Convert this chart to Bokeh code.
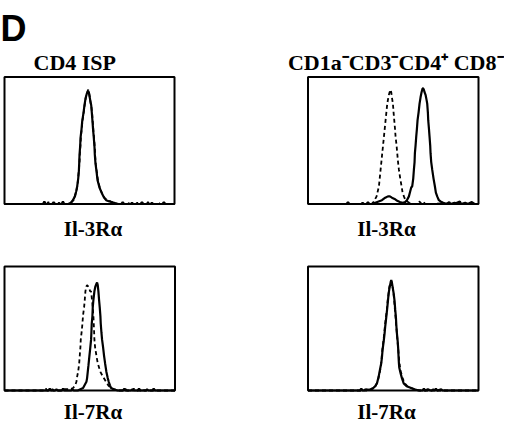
from bokeh.plotting import figure
from bokeh.models import Range1d
from bokeh.core.properties import value
from bokeh.embed import file_html
from bokeh.resources import INLINE

# ---------------- data (channel 0..256, relative count 0..100) ----------------
CHANNEL_MAX = 256
COUNT_MAX = 100

panel_letter = "D"
column_titles = ["CD4 ISP", "CD1a\u207bCD3\u207bCD4\u207a CD8\u207b"]
row_labels = ["Il-3R\u03b1", "Il-7R\u03b1"]

# CD4 ISP, Il-3Ra
isp_il3_solid = [(0, 0), (58, 0), (60, 2), (62, 0), (72, 0), (74, 1.5), (76, 0), (86, 0), (88, 2), (90, 0),
                 (96, 0), (100, 1), (103, 3), (106, 6), (108, 10), (109.5, 14), (111, 20), (112, 26), (112.5, 32),
                 (113, 39), (114, 46), (114.5, 52), (116, 59), (117, 65), (119, 72), (120.5, 78), (122, 83),
                 (124, 87), (126, 89), (127, 88), (128, 85), (129, 82), (130.5, 78), (131.5, 72), (132.5, 65),
                 (133.5, 58), (134.5, 52), (135.5, 45), (136, 39), (137, 32), (138.5, 26), (140, 19), (143, 13),
                 (147, 8), (150, 5), (153, 3), (158, 2), (165, 1), (170, 0), (176, 0), (178, 1.5), (180, 0),
                 (190, 0), (192, 1), (194, 0), (205, 0), (207, 1.5), (209, 0), (220, 0), (222, 1), (224, 0),
                 (238, 0), (240, 1.5), (242, 0), (256, 0)]
isp_il3_dash = [(0, 0), (64, 0), (66, 1.5), (68, 0), (80, 0), (82, 1), (84, 0), (98, 0), (101, 1.5), (104, 3),
                (106.5, 7), (108.5, 11), (110, 15), (111, 21), (112, 27), (113, 33), (113.5, 40), (114.5, 47),
                (115, 53), (116.5, 60), (117.5, 66), (119.5, 73), (121, 79), (122.5, 84), (124.5, 88), (126, 90),
                (127.5, 87), (128.5, 84), (129.5, 80), (131, 76), (132, 71), (133, 64), (134, 57), (135, 51),
                (136, 44), (136.5, 38), (137.5, 31), (139, 25), (141, 18), (144, 12), (148, 7), (151, 4.5),
                (155, 3), (160, 2), (167, 0.5), (172, 0), (184, 0), (186, 1.5), (188, 0), (198, 0), (200, 1),
                (202, 0), (214, 0), (216, 1.5), (218, 0), (230, 0), (232, 1), (234, 0), (256, 0)]

# CD1a-CD3-CD4+CD8-, Il-3Ra
dn_il3_solid = [(0, 0), (58, 0), (60, 1.5), (62, 0), (80, 0), (82, 1), (84, 0), (88, 0), (90, 1.5), (92, 0),
                (96, 0), (98, 1), (101, 1), (106, 2), (111, 3), (116, 5), (120, 6), (123, 6), (126, 5), (130, 4),
                (134, 2.5), (138, 1.5), (142, 1), (146, 1.5), (148.5, 3), (151.5, 6), (153.5, 10), (155, 13),
                (156.5, 14), (158, 20), (159, 27), (160, 33), (160.5, 40), (161.5, 46), (162.5, 53), (163.5, 59),
                (164.5, 66), (166, 72), (167.5, 79), (169, 84), (170.5, 88), (172, 91), (173, 91), (174, 90),
                (175, 88), (176.5, 86), (178, 82), (179, 79), (180, 72), (180.5, 66), (181.5, 60), (182.5, 53),
                (183.5, 46), (184, 40), (185, 33), (186.5, 27), (188.5, 20), (190.5, 14), (192, 9), (194, 6),
                (196.5, 3), (199, 2), (203, 1), (208, 0), (212, 1.5), (214, 0), (220, 1), (222, 0.5), (228, 2),
                (230, 0), (236, 1), (240, 0), (246, 1.5), (250, 0), (256, 0)]
dn_il3_dash = [(0, 0), (96, 0), (99, 2), (103, 6), (106.5, 14), (109, 27), (111.5, 40), (114, 53), (116.5, 66),
               (119, 79), (121, 85), (122.5, 88), (124, 90), (125, 88), (126, 84), (127.5, 79), (128.5, 72),
               (129.5, 66), (130.5, 60), (131.5, 53), (133, 46), (134, 40), (135, 34), (136.5, 27), (138.5, 20),
               (140.5, 14), (142, 9), (144, 6), (146, 3.5), (149, 2), (152, 1), (156, 0), (164, 0), (167, 2),
               (170, 0.5), (173, 2), (176, 0), (190, 0), (200, 0.5), (215, 0), (256, 0)]

# CD4 ISP, Il-7Ra
isp_il7_solid = [(0, 0), (66, 0), (68, 1.5), (70, 0), (76, 0), (78, 1), (80, 0), (86, 0), (88, 1.5), (90, 0),
                 (100, 0), (102, 1), (104, 0), (110, 0), (114, 1), (118, 2), (120, 4), (123, 7), (124, 10),
                 (125, 15), (126, 20), (127.5, 28), (128.5, 33), (130, 41), (130.5, 47), (131, 54), (132, 60),
                 (132.5, 67), (133.5, 73), (135, 80), (136.5, 84), (138, 86), (139, 87), (140, 85), (141, 80),
                 (142, 73), (143, 67), (144, 60), (144.5, 54), (145.5, 47), (146.5, 41), (148, 35), (149.5, 28),
                 (151, 22), (153, 15), (155, 10), (156.5, 7), (158.5, 4), (160, 2), (164, 1), (170, 0),
                 (178, 0), (180, 1.5), (182, 0), (190, 0), (192, 1), (194, 0), (200, 0), (202, 1.5), (204, 0),
                 (212, 0), (214, 1), (216, 0), (222, 0), (224, 1.5), (226, 0), (256, 0)]
isp_il7_dash = [(0, 0), (60, 0), (62, 1.5), (64, 0), (70, 0), (72, 1), (74, 0), (86, 0), (88, 1), (98, 1),
                (103, 2), (106, 4), (108, 7), (109, 11), (110.5, 15), (112, 21), (113, 28), (114, 35), (114.5, 41),
                (116, 48), (117, 54), (118, 61), (119.5, 67), (120.5, 73), (121.5, 80), (123, 84), (124, 85),
                (125.5, 84), (127, 83), (128.5, 80), (130, 80), (131, 75), (132.5, 67), (133.5, 60), (134, 54),
                (134.5, 48), (135, 41), (136, 35), (138, 28), (140, 22), (144, 15), (148, 11), (152.5, 7),
                (156, 4), (160, 2), (165, 1), (170, 0), (180, 0), (182, 1), (184, 0), (192, 0), (194, 1.5),
                (196, 0), (204, 0), (206, 1), (208, 1), (210, 0), (256, 0)]

# CD1a-CD3-CD4+CD8-, Il-7Ra
dn_il7_solid = [(0, 0), (78, 0), (80, 1.5), (82, 0), (86, 0), (88, 1), (90, 0.5), (94, 1), (98, 2), (101, 3.5),
                (103.7, 6), (106, 11), (108.7, 18.6), (110, 22), (111, 26.7), (112, 33), (113.6, 39.5), (115, 46),
                (116, 52), (117.5, 59), (118.7, 65), (120, 72), (121, 78), (122.5, 83), (124, 87), (125, 89),
                (126, 87), (127.5, 82), (128.7, 78), (130, 72), (131, 65), (132, 59), (132.7, 52), (133.5, 46),
                (134.7, 39.5), (135.5, 33), (136, 26.7), (136.5, 22), (137, 18.6), (139, 14), (141, 10),
                (143.7, 5.7), (148, 3.5), (155, 2), (160, 1), (166, 0), (172, 0), (174, 1.5), (176, 0), (180, 1),
                (184, 0), (190, 0), (192, 1.5), (194, 0), (200, 1), (202, 0), (256, 0)]
dn_il7_dash = [(0, 0), (84, 0), (86, 1), (88, 0), (94, 0.5), (99, 2), (102, 4), (105, 8), (107.5, 14), (109.5, 20),
               (110.5, 26), (111.5, 32), (113, 39), (114.5, 46), (115.5, 52), (117, 59), (118.5, 65), (119.5, 72),
               (121, 78), (122, 83), (123.5, 87), (125, 88), (126.5, 86), (127.5, 82), (128.5, 78), (129.5, 72),
               (130.5, 65), (131.5, 59), (132.5, 52), (133.5, 46), (134.5, 39), (135.5, 33), (136.5, 27),
               (137.5, 21), (139.5, 15), (142, 10), (145, 6), (150, 3), (157, 1.5), (163, 0.5), (168, 0),
               (186, 0), (188, 1), (190, 0), (256, 0)]

panels = [
    (isp_il3_solid, isp_il3_dash),
    (dn_il3_solid, dn_il3_dash),
    (isp_il7_solid, isp_il7_dash),
    (dn_il7_solid, dn_il7_dash),
]

# ---------------- layout (pixels inside the figure, y from top) ----------------
W, H = 504, 422
boxes = [
    (4.0, 76.5, 174.0, 203.5),
    (307.5, 76.5, 478.0, 203.5),
    (4.0, 266.0, 174.5, 390.0),
    (307.5, 266.0, 478.0, 390.0),
]

p = figure(width=W, height=H, x_range=Range1d(0, W), y_range=Range1d(H, 0),
           output_backend="svg", toolbar_location=None, min_border=0,
           x_axis_type=None, y_axis_type=None, outline_line_color=None,
           background_fill_color="white", border_fill_color="white")

for i, ((solid, dash), (bx0, by0, bx1, by1)) in enumerate(zip(panels, boxes)):
    kx = CHANNEL_MAX / (bx1 - bx0)
    ky = COUNT_MAX / (by1 - by0)
    xn, yn = f"x{i}", f"y{i}"
    p.extra_x_ranges[xn] = Range1d(-bx0 * kx, (W - bx0) * kx)
    p.extra_y_ranges[yn] = Range1d((by1 - H) * ky, by1 * ky)
    p.line([c for c, _ in dash], [v for _, v in dash], x_range_name=xn, y_range_name=yn,
           line_color="black", line_width=1.8, line_dash="4 3")
    p.line([c for c, _ in solid], [v for _, v in solid], x_range_name=xn, y_range_name=yn,
           line_color="black", line_width=2.2)
    p.quad(left=[0], right=[CHANNEL_MAX], bottom=[0], top=[COUNT_MAX], x_range_name=xn, y_range_name=yn,
           fill_color=None, line_color="black", line_width=2)

p.text(x=[0], y=[28], text=[panel_letter], text_font=value("Liberation Sans"), text_font_style="bold",
       text_font_size="36px", text_align="left", text_baseline="alphabetic", text_color="black")
p.text(x=[33], y=[61.5], text=[column_titles[0]], text_font=value("Liberation Serif"), text_font_style="bold",
       text_font_size="22px", text_align="left", text_baseline="alphabetic", text_color="black")
p.text(x=[503], y=[61.5], text=[column_titles[1]], text_font=value("Liberation Serif"), text_font_style="bold",
       text_font_size="22px", text_align="right", text_baseline="alphabetic", text_color="black")
p.text(x=[92.5, 386, 92.5, 386], y=[228, 228, 411, 411],
       text=[row_labels[0], row_labels[0], row_labels[1], row_labels[1]],
       text_font=value("Liberation Serif"), text_font_style="bold", text_font_size="21px",
       text_align="center", text_baseline="alphabetic", text_color="black")

open("out.html", "w").write(file_html(p, INLINE))
